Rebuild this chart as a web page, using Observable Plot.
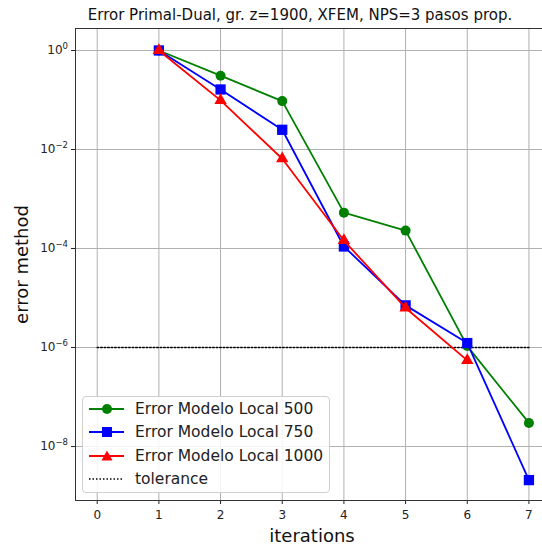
<!DOCTYPE html>
<html><head><meta charset="utf-8">
<script src="https://cdn.jsdelivr.net/npm/d3@7"></script>
<script src="https://cdn.jsdelivr.net/npm/@observablehq/plot@0.6"></script>
<style>
body{margin:0;background:#fff;font-family:"DejaVu Sans",sans-serif;}
#wrap{position:relative;width:542px;height:548px;overflow:hidden;}
#legend{position:absolute;left:82px;top:396px;width:248px;height:97px;border:1px solid #d0d0d0;border-radius:4px;background:rgba(255,255,255,0.85);font-size:15.5px;color:#222;box-sizing:border-box;padding-top:0.5px;}
.row{display:flex;align-items:center;height:23.3px;}
.row svg{margin-left:5px;margin-right:10px;}
</style>
</head><body><div id="wrap"></div>
<script>
const titleText = "Error Primal-Dual, gr. z=1900, XFEM, NPS=3 pasos prop.";
const xLabel = "iterations";
const yLabel = "error method";
const iterations = [1, 2, 3, 4, 5, 6, 7];
const err500 = [1, 0.31, 0.095, 5.3e-4, 2.3e-4, 1.07e-6, 3.0e-8];
const err750 = [1, 0.163, 0.025, 1.1e-4, 7.1e-6, 1.23e-6, 2.1e-9];
const iterations1000 = [1, 2, 3, 4, 5, 6];
const err1000 = [1, 0.098, 6.5e-3, 1.45e-4, 6.3e-6, 5.5e-7];
const toleranceX = [0, 7];
const tolerance = 1e-6;
const xTicks = [0, 1, 2, 3, 4, 5, 6, 7];
const yTicks = [1, 1e-2, 1e-4, 1e-6, 1e-8];
const seriesNames = ["Error Modelo Local 500", "Error Modelo Local 750", "Error Modelo Local 1000", "tolerance"];

const fmt = d => "10^" + Math.round(Math.log10(d));

const s500 = iterations.map((x, i) => ({x, y: err500[i]}));
const s750 = iterations.map((x, i) => ({x, y: err750[i]}));
const s1000 = iterations1000.map((x, i) => ({x, y: err1000[i]}));
const tol = toleranceX.map(x => ({x, y: tolerance}));

const chart = Plot.plot({
  width: 542, height: 548,
  marginTop: 28, marginLeft: 75, marginRight: 0, marginBottom: 48,
  style: {fontFamily: "DejaVu Sans", fontSize: "12px", color: "#222", background: "#fff"},
  x: {domain: [-0.352, 7.22], label: null},
  y: {type: "log", domain: [Math.pow(10, -9.09), Math.pow(10, 0.444)], label: null},
  marks: [
    Plot.gridX(xTicks, {stroke: "#b0b0b0", strokeOpacity: 1, strokeWidth: 1}),
    Plot.gridY(yTicks, {stroke: "#b0b0b0", strokeOpacity: 1, strokeWidth: 1}),
    Plot.axisX(xTicks, {tickSize: 4, tickPadding: 5.5, label: null, tickFormat: d => String(d), fontSize: 12}),
    Plot.axisY(yTicks, {tickSize: 4, tickPadding: 3.5, label: null, tickFormat: fmt, fontSize: 12}),
    Plot.frame({anchor: "left", stroke: "#333"}),
    Plot.frame({anchor: "bottom", stroke: "#333"}),
    Plot.frame({anchor: "top", stroke: "#333"}),
    Plot.line(tol, {x: "x", y: "y", stroke: "black", strokeWidth: 1.5, strokeDasharray: "1.5,2"}),
    Plot.line(s500, {x: "x", y: "y", stroke: "green", strokeWidth: 1.8}),
    Plot.dot(s500, {x: "x", y: "y", fill: "green", r: 5, symbol: "circle"}),
    Plot.line(s750, {x: "x", y: "y", stroke: "blue", strokeWidth: 1.8}),
    Plot.dot(s750, {x: "x", y: "y", fill: "blue", r: 5.8, symbol: "square"}),
    Plot.line(s1000, {x: "x", y: "y", stroke: "red", strokeWidth: 1.8}),
    Plot.dot(s1000, {x: "x", y: "y", fill: "red", r: 4.6, symbol: "triangle"}),
    Plot.text([titleText], {frameAnchor: "top", lineAnchor: "middle", textAnchor: "middle", dx: -9, dy: -13, fontSize: 15, fill: "#111"}),
    Plot.text([xLabel], {frameAnchor: "bottom", lineAnchor: "middle", textAnchor: "middle", dx: 3, dy: 36, fontSize: 18, fill: "#111"}),
    Plot.text([yLabel], {frameAnchor: "left", lineAnchor: "middle", textAnchor: "middle", dx: -53, rotate: -90, fontSize: 18, fill: "#111"})
  ]
});
const wrap = document.getElementById("wrap");
wrap.appendChild(chart);

// render exponents as superscripts
chart.querySelectorAll("g[aria-label='y-axis tick label'] text").forEach(t => {
  const s = t.textContent;
  if (!s.startsWith("10^")) return;
  const e = s.slice(3).replace("-", "\u2212");
  t.textContent = "";
  const base = document.createElementNS("http://www.w3.org/2000/svg", "tspan");
  base.textContent = "10";
  const exp = document.createElementNS("http://www.w3.org/2000/svg", "tspan");
  exp.setAttribute("dy", "-5");
  exp.setAttribute("font-size", "8.5");
  exp.textContent = e;
  t.appendChild(base);
  t.appendChild(exp);
});

const legend = document.createElement("div");
legend.id = "legend";
const colors = ["green", "blue", "red", "black"];
const shapes = ["circle", "square", "triangle", null];
seriesNames.forEach((name, i) => {
  const row = document.createElement("div");
  row.className = "row";
  let marker = "";
  if (shapes[i] === "circle") marker = `<circle cx="19" cy="7" r="5" fill="${colors[i]}"/>`;
  if (shapes[i] === "square") marker = `<rect x="14" y="2" width="10" height="10" fill="${colors[i]}"/>`;
  if (shapes[i] === "triangle") marker = `<path d="M19,1.5 L24.5,11.5 L13.5,11.5 Z" fill="${colors[i]}"/>`;
  const dash = shapes[i] ? "" : ` stroke-dasharray="1.5,2"`;
  row.innerHTML = `<svg width="37" height="14"><line x1="1" y1="7" x2="36" y2="7" stroke="${colors[i]}" stroke-width="${shapes[i] ? 1.8 : 1.5}"${dash}/>${marker}</svg><span>${name}</span>`;
  legend.appendChild(row);
});
wrap.appendChild(legend);
</script>
</body></html>
